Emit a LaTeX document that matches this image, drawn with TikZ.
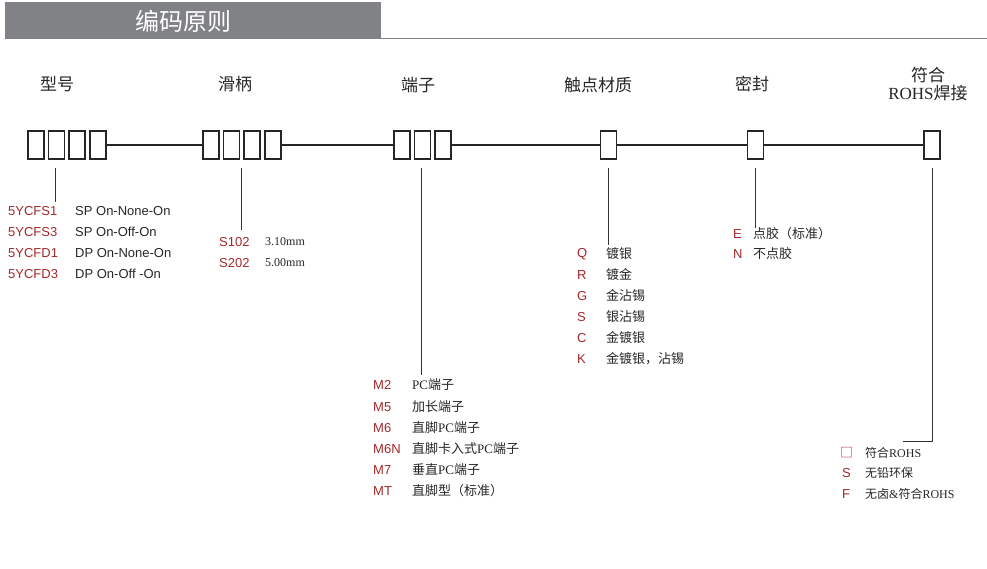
\documentclass[tikz,border=0pt]{standalone}
\usepackage{fontspec}
\setmainfont{Liberation Sans}
\newfontfamily\cjk{Noto Sans CJK SC}
\newfontfamily\ser{Liberation Serif}
\definecolor{hdr}{HTML}{808285}
\definecolor{cred}{HTML}{A3282B}
\begin{document}
\begin{tikzpicture}[x=1pt,y=-1pt,
  cbox/.style={draw=black!85,line width=1.3pt,minimum width=16pt,minimum height=28pt,inner sep=0},
  ttl/.style={font=\fontsize{17}{20}\selectfont\cjk,text=black!85},
  code/.style={anchor=west,text=cred,font=\fontsize{13}{15}\selectfont,inner sep=0},
  dsc/.style={anchor=west,text=black!85,font=\fontsize{13}{15}\selectfont,inner sep=0},
  tick/.style={draw=black!80,line width=0.6pt}]
\useasboundingbox (0,0) rectangle (987,569);
\fill[hdr] (5,2) rectangle (381,39);
\draw[hdr,line width=1pt] (381,39) -- (987,39);
\node[text=white,font=\fontsize{24}{26}\selectfont\cjk] (hd) at (183,21) {编码原则};
% titles
\node[ttl] (t1) at (57,84) {型号};
\node[ttl] (t2) at (235,84) {滑柄};
\node[ttl] (t3) at (418,85) {端子};
\node[ttl] (t4) at (598,85) {触点材质};
\node[ttl] (t5) at (752,84) {密封};
\node[ttl,align=center] (t6) at (928,84) {符合\\[-2pt]{\ser ROHS}焊接};
% boxes
\foreach \i/\x in {1/36,2/56.5,3/77,4/98}{\node[cbox] (a\i) at (\x,145) {};}
\foreach \i/\x in {1/211,2/231.5,3/252,4/273}{\node[cbox] (b\i) at (\x,145) {};}
\foreach \i/\x in {1/402,2/422.5,3/443}{\node[cbox] (c\i) at (\x,145) {};}
\node[cbox] (d1) at (608.5,145) {};
\node[cbox] (e1) at (755.5,145) {};
\node[cbox] (f1) at (932,145) {};
\draw[line width=1.3pt,black!85] (a4.east)--(b1.west) (b4.east)--(c1.west) (c3.east)--(d1.west) (d1.east)--(e1.west) (e1.east)--(f1.west);
% ticks
\coordinate (ta) at (55,202); \coordinate (tb) at (241,230); \coordinate (tc) at (421,375);
\coordinate (td) at (608,245); \coordinate (te) at (755,228); \coordinate (tf) at (932,441); \coordinate (tg) at (903,441);
\draw[tick] (55,168)--(ta); \draw[tick] (241,168)--(tb); \draw[tick] (421,168)--(tc);
\draw[tick] (608,168)--(td); \draw[tick] (755,168)--(te); \draw[tick] (932,168)--(tf)--(tg);
% group 1
\foreach \c/\d/\y in {5YCFS1/SP On-None-On/211,5YCFS3/SP On-Off-On/232,5YCFD1/DP On-None-On/253,5YCFD3/DP On-Off -On/274}{
  \node[code] at (8,\y) {\c}; \node[dsc] at (75,\y) {\d};}
% group 2
\node[code] at (219,242) {S102}; \node[dsc,font=\fontsize{12}{14}\selectfont\ser] at (265,242) {3.10mm};
\node[code] at (219,263) {S202}; \node[dsc,font=\fontsize{12}{14}\selectfont\ser] at (265,263) {5.00mm};
% group 3
\foreach \c/\d/\y in {M2/{{\ser PC}端子}/385,M5/加长端子/407,M6/{直脚{\ser PC}端子}/428,M6N/{直脚卡入式{\ser PC}端子}/449,M7/{垂直{\ser PC}端子}/470,MT/{直脚型（标准）}/491}{
  \node[code] at (373,\y) {\c}; \node[dsc,font=\fontsize{13}{15}\selectfont\cjk] at (412,\y) {\d};}
% group 4
\foreach \c/\d/\y in {Q/镀银/254,R/镀金/275,G/金沾锡/296,S/银沾锡/317,C/金镀银/338,K/{金镀银，沾锡}/359}{
  \node[code] at (577,\y) {\c}; \node[dsc,font=\fontsize{13}{15}\selectfont\cjk] at (606,\y) {\d};}
% group 5
\node[code] at (733,234) {E}; \node[dsc,font=\fontsize{13}{15}\selectfont\cjk] at (753,234) {点胶（标准）};
\node[code] at (733,254) {N}; \node[dsc,font=\fontsize{13}{15}\selectfont\cjk] at (753,254) {不点胶};
% group 6
\node[code,font=\fontsize{13}{15}\selectfont\cjk] at (840,453) {□}; \node[dsc,font=\fontsize{12}{14}\selectfont\cjk] at (865,453) {符合{\ser ROHS}};
\node[code] at (842,473) {S}; \node[dsc,font=\fontsize{12}{14}\selectfont\cjk] at (865,473) {无铅环保};
\node[code] at (842,494) {F}; \node[dsc,font=\fontsize{12}{14}\selectfont\cjk] at (865,494) {无卤{\ser\&}符合{\ser ROHS}};
\end{tikzpicture}
\end{document}
